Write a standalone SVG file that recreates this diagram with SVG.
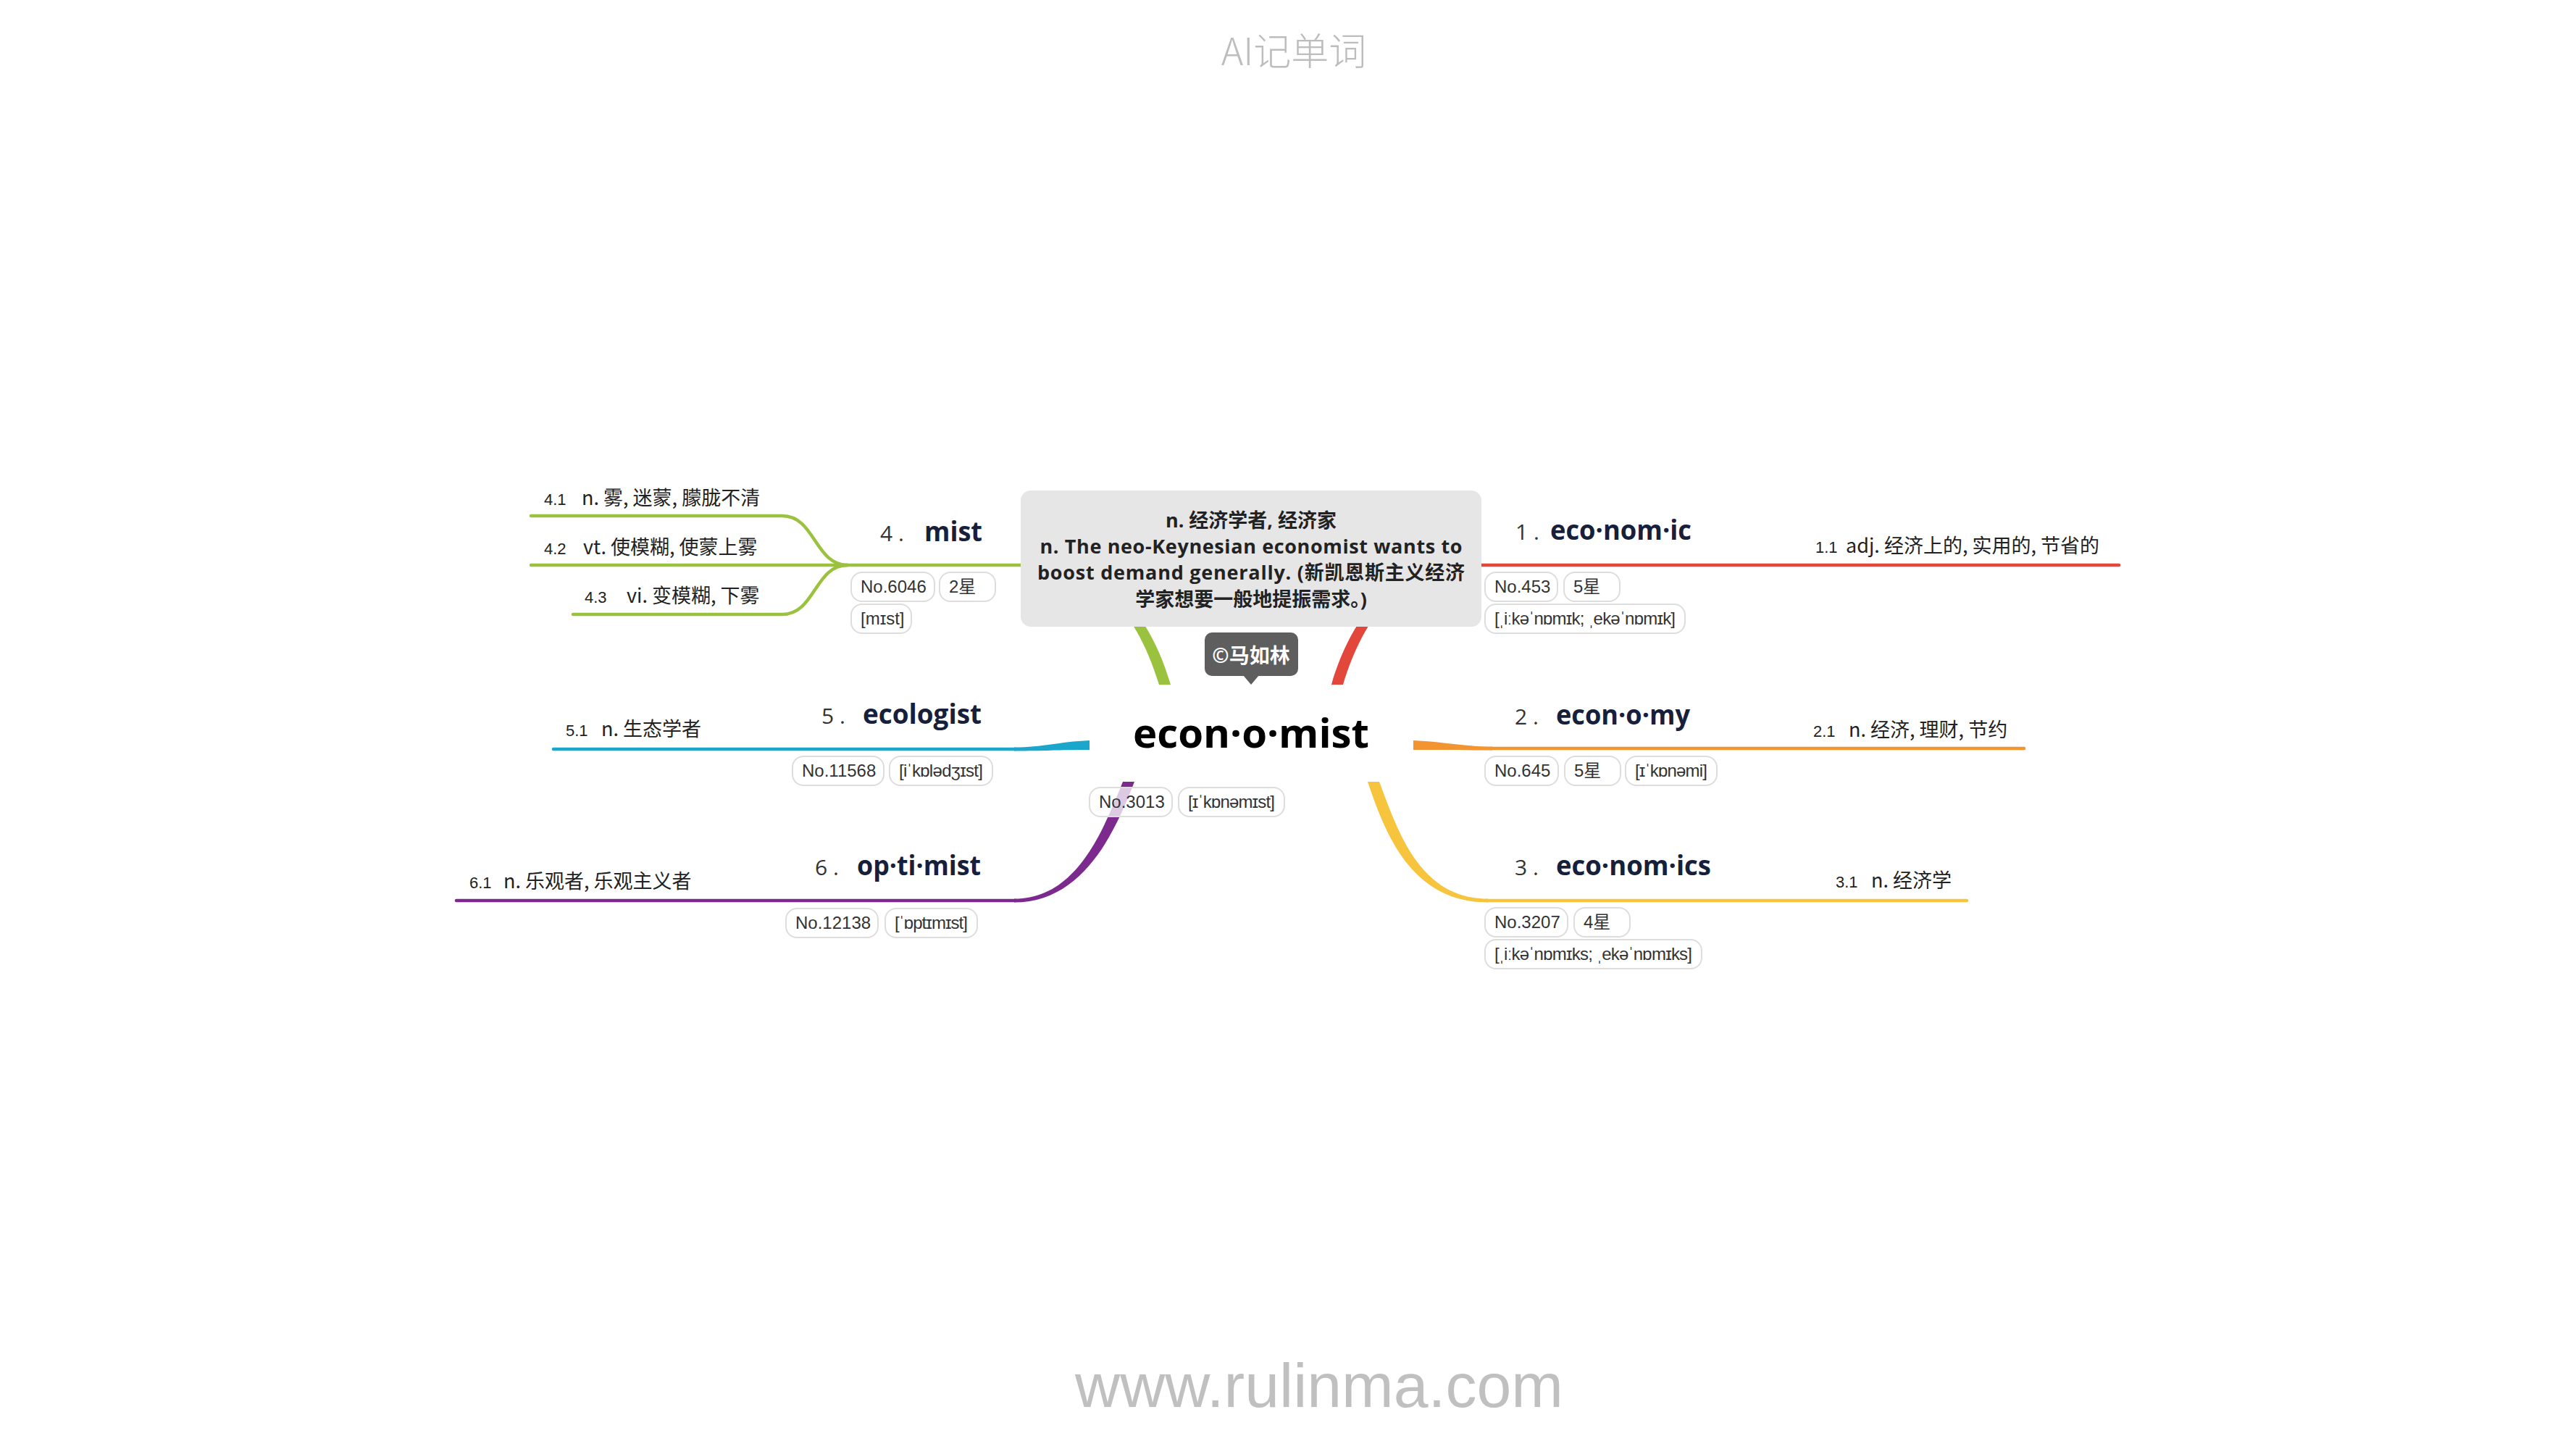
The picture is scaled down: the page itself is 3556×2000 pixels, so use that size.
<svg xmlns="http://www.w3.org/2000/svg" width="3556" height="2000" viewBox="0 0 3556 2000">
<style>
.pill{fill:#ffffff;fill-opacity:0.75;stroke:#dddddd;stroke-width:2}
.pt{font-family:"Liberation Sans","Noto Sans CJK SC",sans-serif;font-size:24px;fill:#333333}
.num{font-family:"Open Sans","Liberation Sans",sans-serif;font-size:30px;fill:#333333}
.word{font-family:"Open Sans","Liberation Sans",sans-serif;font-weight:700;font-size:37px;fill:#17203a}
.sn{font-family:"Liberation Sans",sans-serif;font-size:22px;fill:#222222}
.st{font-family:"Noto Sans CJK SC",sans-serif;font-size:27px;fill:#222222}
.ln{fill:none;stroke-width:4.5;stroke-linecap:round}
.bx{font-family:"Open Sans","Noto Sans CJK SC",sans-serif;font-weight:700;font-size:27px;fill:#222222}
</style>
<rect x="0" y="0" width="3556" height="2000" fill="#ffffff"/>
<text id="title" x="1786" y="90" text-anchor="middle" font-family="Noto Sans CJK SC, sans-serif" font-weight="300" font-size="52" fill="#bdbdbd">AI记单词</text>

<g id="connectors">
  <path fill="#9bc23f" d="M1600,945 C1572,853 1520,782.5 1430,782.5 L1430,777.5 C1530,777.5 1588,849 1616,945 Z"/>
  <path class="ln" stroke="#9bc23f" d="M1432,780 L733,780"/>
  <path class="ln" stroke="#9bc23f" d="M1170,780 C1125,780 1125,712 1080,712 L733,712"/>
  <path class="ln" stroke="#9bc23f" d="M1170,780 C1125,780 1125,848 1080,848 L791,848"/>
  <path fill="#e3463a" d="M1854,945 C1882,853 1934,782.5 2024,782.5 L2024,777.5 C1924,777.5 1866,849 1838,945 Z"/>
  <path class="ln" stroke="#e3463a" d="M2022,780 L2925,780"/>
  <path fill="#f39433" d="M1951,1022 C1995,1024 2020,1030.5 2060,1030.5 L2060,1035.5 C2020,1035.5 1995,1035 1951,1035 Z"/>
  <path class="ln" stroke="#f39433" d="M2058,1033 L2794,1033"/>
  <path fill="#1ba6cc" d="M1504,1022 C1460,1024 1440,1031.5 1400,1031.5 L1400,1036.5 C1440,1036.5 1460,1035 1504,1035 Z"/>
  <path class="ln" stroke="#1ba6cc" d="M1402,1034 L764,1034"/>
  <path fill="#7d2a8f" d="M1550,1079 C1522,1148 1486,1240.5 1400,1240.5 L1400,1245.5 C1494,1245.5 1538,1152 1566,1079 Z"/>
  <path class="ln" stroke="#7d2a8f" d="M1402,1243 L630,1243"/>
  <path fill="#f7c43e" d="M1888,1079 C1912,1150 1948,1245.5 2054,1245.5 L2054,1240.5 C1960,1240.5 1930,1148 1904,1079 Z"/>
  <path class="ln" stroke="#f7c43e" d="M2052,1243 L2715,1243"/>
</g>

<g id="note">
  <rect x="1409" y="677" width="636" height="188" rx="14" fill="#e6e6e6"/>
  <text class="bx" x="1727" y="728" text-anchor="middle" font-size="28">n. 经济学者, 经济家</text>
  <text class="bx" x="1727" y="764" text-anchor="middle" textLength="583">n. The neo-Keynesian economist wants to</text>
  <text class="bx" x="1727" y="800" text-anchor="middle" textLength="590">boost demand generally. (新凯恩斯主义经济</text>
  <text class="bx" x="1727" y="837" text-anchor="middle" font-size="28">学家想要一般地提振需求。)</text>
</g>

<g id="copyright">
  <rect x="1663" y="873" width="129" height="60" rx="10" fill="#5e5e5e"/>
  <path d="M1716,932 L1727,945 L1738,932 Z" fill="#5e5e5e"/>
  <text x="1727" y="915" text-anchor="middle" font-family="Open Sans, Noto Sans CJK SC, sans-serif" font-weight="700" font-size="28" fill="#ffffff">©马如林</text>
</g>

<g id="center">
  <text x="1727" y="1032" text-anchor="middle" font-family="Open Sans, Liberation Sans, sans-serif" font-weight="700" font-size="56" fill="#000000" textLength="326" lengthAdjust="spacingAndGlyphs">econ·o·mist</text>
  <rect class="pill" x="1504" y="1087" width="114" height="40" rx="15"/>
  <text class="pt" x="1517" y="1115">No.3013</text>
  <rect class="pill" x="1627" y="1087" width="146" height="40" rx="15"/>
  <text class="pt" x="1640" y="1115" textLength="120">[ɪˈkɒnəmɪst]</text>
</g>

<g id="node1">
  <text class="num" x="2092" y="745">1 .</text>
  <text class="word" x="2140" y="745" textLength="195" lengthAdjust="spacingAndGlyphs">eco·nom·ic</text>
  <rect class="pill" x="2050" y="790" width="100" height="40" rx="15"/>
  <text class="pt" x="2063" y="818">No.453</text>
  <rect class="pill" x="2159" y="790" width="77" height="40" rx="15"/>
  <text class="pt" x="2172" y="818">5星</text>
  <rect class="pill" x="2050" y="834" width="276" height="40" rx="15"/>
  <text class="pt" x="2063" y="862" textLength="250">[ˌiːkəˈnɒmɪk; ˌekəˈnɒmɪk]</text>
</g>
<g id="node1-1">
  <text class="sn" x="2506" y="763">1.1</text>
  <text class="st" x="2548" y="763">adj. 经济上的, 实用的, 节省的</text>
</g>

<g id="node2">
  <text class="num" x="2091" y="1000">2 .</text>
  <text class="word" x="2148" y="1000" textLength="185" lengthAdjust="spacingAndGlyphs">econ·o·my</text>
  <rect class="pill" x="2050" y="1044" width="101" height="40" rx="15"/>
  <text class="pt" x="2063" y="1072">No.645</text>
  <rect class="pill" x="2160" y="1044" width="77" height="40" rx="15"/>
  <text class="pt" x="2173" y="1072">5星</text>
  <rect class="pill" x="2244" y="1044" width="126" height="40" rx="15"/>
  <text class="pt" x="2257" y="1072" textLength="100">[ɪˈkɒnəmi]</text>
</g>
<g id="node2-1">
  <text class="sn" x="2503" y="1017">2.1</text>
  <text class="st" x="2552" y="1017">n. 经济, 理财, 节约</text>
</g>

<g id="node3">
  <text class="num" x="2091" y="1208">3 .</text>
  <text class="word" x="2148" y="1208" textLength="214" lengthAdjust="spacingAndGlyphs">eco·nom·ics</text>
  <rect class="pill" x="2050" y="1253" width="114" height="40" rx="15"/>
  <text class="pt" x="2063" y="1281">No.3207</text>
  <rect class="pill" x="2173" y="1253" width="77" height="40" rx="15"/>
  <text class="pt" x="2186" y="1281">4星</text>
  <rect class="pill" x="2050" y="1297" width="299" height="40" rx="15"/>
  <text class="pt" x="2063" y="1325" textLength="273">[ˌiːkəˈnɒmɪks; ˌekəˈnɒmɪks]</text>
</g>
<g id="node3-1">
  <text class="sn" x="2534" y="1225">3.1</text>
  <text class="st" x="2583" y="1225">n. 经济学</text>
</g>

<g id="node4">
  <text class="num" x="1215" y="747">4 .</text>
  <text class="word" x="1276" y="747" textLength="80" lengthAdjust="spacingAndGlyphs">mist</text>
  <rect class="pill" x="1175" y="790" width="115" height="40" rx="15"/>
  <text class="pt" x="1188" y="818">No.6046</text>
  <rect class="pill" x="1297" y="790" width="77" height="40" rx="15"/>
  <text class="pt" x="1310" y="818">2星</text>
  <rect class="pill" x="1175" y="834" width="83" height="40" rx="15"/>
  <text class="pt" x="1188" y="862">[mɪst]</text>
</g>
<g id="node4-1">
  <text class="sn" x="751" y="697">4.1</text>
  <text class="st" x="803" y="697">n. 雾, 迷蒙, 朦胧不清</text>
</g>
<g id="node4-2">
  <text class="sn" x="751" y="765">4.2</text>
  <text class="st" x="805" y="765">vt. 使模糊, 使蒙上雾</text>
</g>
<g id="node4-3">
  <text class="sn" x="807" y="832">4.3</text>
  <text class="st" x="865" y="832">vi. 变模糊, 下雾</text>
</g>

<g id="node5">
  <text class="num" x="1134" y="999">5 .</text>
  <text class="word" x="1191" y="999" textLength="164" lengthAdjust="spacingAndGlyphs">ecologist</text>
  <rect class="pill" x="1094" y="1044" width="126" height="40" rx="15"/>
  <text class="pt" x="1107" y="1072">No.11568</text>
  <rect class="pill" x="1228" y="1044" width="142" height="40" rx="15"/>
  <text class="pt" x="1241" y="1072" textLength="116">[iˈkɒlədʒɪst]</text>
</g>
<g id="node5-1">
  <text class="sn" x="781" y="1016">5.1</text>
  <text class="st" x="830" y="1016">n. 生态学者</text>
</g>

<g id="node6">
  <text class="num" x="1125" y="1208">6 .</text>
  <text class="word" x="1183" y="1208" textLength="171" lengthAdjust="spacingAndGlyphs">op·ti·mist</text>
  <rect class="pill" x="1085" y="1254" width="127" height="40" rx="15"/>
  <text class="pt" x="1098" y="1282">No.12138</text>
  <rect class="pill" x="1222" y="1254" width="127" height="40" rx="15"/>
  <text class="pt" x="1235" y="1282" textLength="101">[ˈɒptɪmɪst]</text>
</g>
<g id="node6-1">
  <text class="sn" x="648" y="1226">6.1</text>
  <text class="st" x="695" y="1226">n. 乐观者, 乐观主义者</text>
</g>

<text id="footer" x="1821" y="1942" text-anchor="middle" font-family="Liberation Sans, Arial, sans-serif" font-size="86" fill="#c0c0c0">www.rulinma.com</text>
</svg>
